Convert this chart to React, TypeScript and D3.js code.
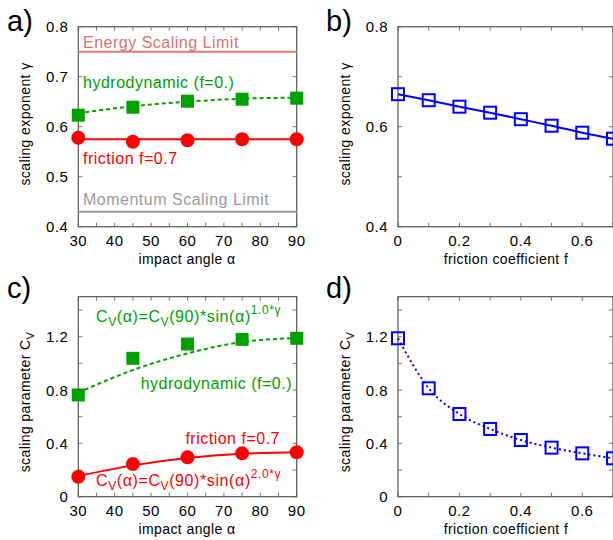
import React, { useEffect, useRef } from 'react';
import * as d3 from 'd3';

// impact angle panels (a, c)
const angles = [30, 45, 60, 75, 90];
const hydroGamma = [0.623, 0.639, 0.651, 0.655, 0.657];
const hydroGammaFit = [0.627, 0.641, 0.65, 0.656, 0.658];
const frictionGamma = [0.578, 0.57, 0.573, 0.575, 0.575];
const frictionGammaFit = [0.575, 0.575, 0.575, 0.575, 0.575];
const energyLimit = 0.75;
const momentumLimit = 0.43;

const hydroCv = [0.763, 1.038, 1.145, 1.18, 1.188];
const hydroCvFit = [0.78, 0.95, 1.075, 1.16, 1.19];
const frictionCv = [0.15, 0.245, 0.295, 0.325, 0.333];
const frictionCvFit = [0.155, 0.235, 0.29, 0.322, 0.333];

// friction coefficient panels (b, d)
const frictionCoef = [0, 0.1, 0.2, 0.3, 0.4, 0.5, 0.6, 0.7];
const gammaVsF = [0.665, 0.653, 0.64, 0.628, 0.615, 0.602, 0.588, 0.576];
const cvVsF = [1.188, 0.813, 0.62, 0.508, 0.425, 0.368, 0.325, 0.288];

// ticks
const angleTicks = [30, 35, 40, 45, 50, 55, 60, 65, 70, 75, 80, 85, 90];
const angleLabels = [30, 40, 50, 60, 70, 80, 90];
const fTicks = [0, 0.1, 0.2, 0.3, 0.4, 0.5, 0.6, 0.7];
const fLabels = [0, 0.2, 0.4, 0.6];
const gammaTicksA = [0.4, 0.5, 0.6, 0.7, 0.8];
const gammaLabelsA = [0.4, 0.5, 0.6, 0.7, 0.8];
const gammaTicksB = [0.4, 0.5, 0.6, 0.7, 0.8];
const gammaLabelsB = [0.4, 0.6, 0.8];
const cvTicks = [0, 0.2, 0.4, 0.6, 0.8, 1.0, 1.2, 1.4];
const cvLabels = [0, 0.4, 0.8, 1.2];

const FONT = '"Liberation Sans", Arial, sans-serif';
const GREEN = '#00a000';
const RED = '#ff0000';
const BLUE = '#0000ff';

type Sel = d3.Selection<SVGGElement, unknown, null, undefined>;

function frame(g: Sel, x: d3.ScaleLinear<number, number>, y: d3.ScaleLinear<number, number>,
  xTicks: number[], xLabels: number[], yTicks: number[], yLabels: number[]) {
  const [x0, x1] = x.range();
  const [y0, y1] = y.range();
  const tl = 4;
  xTicks.forEach(t => {
    g.append('line').attr('x1', x(t)).attr('x2', x(t)).attr('y1', y0).attr('y2', y0 - tl)
      .attr('stroke', '#777').attr('stroke-width', 1);
    g.append('line').attr('x1', x(t)).attr('x2', x(t)).attr('y1', y1).attr('y2', y1 + tl)
      .attr('stroke', '#777').attr('stroke-width', 1);
  });
  yTicks.forEach(t => {
    g.append('line').attr('x1', x0).attr('x2', x0 + tl).attr('y1', y(t)).attr('y2', y(t))
      .attr('stroke', '#777').attr('stroke-width', 1);
    g.append('line').attr('x1', x1).attr('x2', x1 - tl).attr('y1', y(t)).attr('y2', y(t))
      .attr('stroke', '#777').attr('stroke-width', 1);
  });
  g.append('rect').attr('x', x0).attr('y', y1).attr('width', x1 - x0).attr('height', y0 - y1)
    .attr('fill', 'none').attr('stroke', '#555').attr('stroke-width', 1.2);

  const fmt = (v: number) => (v === 0 ? '0' : d3.format('')(v));
  xLabels.forEach(t => {
    g.append('text').attr('x', x(t)).attr('y', y0 + 19).attr('text-anchor', 'middle')
      .attr('font-size', 15).attr('letter-spacing', 0.5).text(fmt(t));
  });
  yLabels.forEach(t => {
    g.append('text').attr('x', x0 - 10).attr('y', y(t) + 5.5).attr('text-anchor', 'end')
      .attr('font-size', 15).attr('letter-spacing', 0.5).text(fmt(t));
  });
}

function formula(g: Sel, xPos: number, yPos: number, color: string, power: string) {
  const t = g.append('text').attr('x', xPos).attr('y', yPos).attr('fill', color)
    .attr('font-size', 16).attr('letter-spacing', 0.6);
  t.append('tspan').text('C');
  t.append('tspan').attr('dy', 4).attr('font-size', 12).text('V');
  t.append('tspan').attr('dy', -4).text('(α)=C');
  t.append('tspan').attr('dy', 4).attr('font-size', 12).text('V');
  t.append('tspan').attr('dy', -4).text('(90)*sin(α)');
  t.append('tspan').attr('dy', -8).attr('font-size', 12).text(power);
}

const App: React.FC = () => {
  const svgRef = useRef<SVGSVGElement | null>(null);

  useEffect(() => {
    if (!svgRef.current) return;
    const svg = d3.select(svgRef.current);
    svg.selectAll('*').remove();
    const root = svg.append('g').attr('font-family', FONT);

    const xA = d3.scaleLinear().domain([30, 90]).range([78.3, 296.7]);
    const xB = d3.scaleLinear().domain([0, 0.7]).range([398, 613]);
    const yTop = d3.scaleLinear().domain([0.4, 0.8]).range([226.7, 26.7]);
    const yBot = d3.scaleLinear().domain([0, 1.5]).range([496.7, 296.7]);

    const line = (x: d3.ScaleLinear<number, number>, y: d3.ScaleLinear<number, number>) =>
      d3.line<[number, number]>().x(d => x(d[0])).y(d => y(d[1])).curve(d3.curveMonotoneX);
    const zip = (a: number[], b: number[]) => a.map((v, i) => [v, b[i]] as [number, number]);

    const filledSquares = (g: Sel, x: any, y: any, xs: number[], ys: number[], color: string) => {
      g.selectAll(null).data(zip(xs, ys)).enter().append('rect')
        .attr('x', d => x(d[0]) - 6.5).attr('y', d => y(d[1]) - 6.5)
        .attr('width', 13).attr('height', 13).attr('fill', color);
    };
    const circles = (g: Sel, x: any, y: any, xs: number[], ys: number[], color: string) => {
      g.selectAll(null).data(zip(xs, ys)).enter().append('circle')
        .attr('cx', d => x(d[0])).attr('cy', d => y(d[1])).attr('r', 7).attr('fill', color);
    };
    const openSquares = (g: Sel, x: any, y: any, xs: number[], ys: number[], color: string) => {
      g.selectAll(null).data(zip(xs, ys)).enter().append('rect')
        .attr('x', d => x(d[0]) - 6).attr('y', d => y(d[1]) - 6)
        .attr('width', 12).attr('height', 12).attr('fill', 'none')
        .attr('stroke', color).attr('stroke-width', 2);
    };

    // ---------- panel a ----------
    const a = root.append('g');
    frame(a, xA, yTop, angleTicks, angleLabels, gammaTicksA, gammaLabelsA);
    a.append('line').attr('x1', xA(30)).attr('x2', xA(90))
      .attr('y1', yTop(energyLimit)).attr('y2', yTop(energyLimit))
      .attr('stroke', '#dd7a7a').attr('stroke-width', 2);
    a.append('line').attr('x1', xA(30)).attr('x2', xA(90))
      .attr('y1', yTop(momentumLimit)).attr('y2', yTop(momentumLimit))
      .attr('stroke', '#999').attr('stroke-width', 2);
    a.append('path').attr('d', line(xA, yTop)(zip(angles, hydroGammaFit)))
      .attr('fill', 'none').attr('stroke', GREEN).attr('stroke-width', 2).attr('stroke-dasharray', '4,3');
    a.append('path').attr('d', line(xA, yTop)(zip(angles, frictionGammaFit)))
      .attr('fill', 'none').attr('stroke', RED).attr('stroke-width', 2);
    filledSquares(a, xA, yTop, angles, hydroGamma, GREEN);
    circles(a, xA, yTop, angles, frictionGamma, RED);
    const ann = (g: Sel, xPos: number, yPos: number, color: string, s: string, anchor = 'start') =>
      g.append('text').attr('x', xPos).attr('y', yPos).attr('fill', color).attr('text-anchor', anchor)
        .attr('font-size', 16).attr('letter-spacing', 0.5).text(s);
    ann(a, 83, 48, '#d87272', 'Energy Scaling Limit');
    ann(a, 83, 88, GREEN, 'hydrodynamic (f=0.)');
    ann(a, 83, 164, RED, 'friction f=0.7');
    ann(a, 83, 205, '#999', 'Momentum Scaling Limit');

    // ---------- panel b ----------
    const b = root.append('g');
    frame(b, xB, yTop, fTicks, fLabels, gammaTicksB, gammaLabelsB);
    b.append('path').attr('d', line(xB, yTop)(zip(frictionCoef, gammaVsF)))
      .attr('fill', 'none').attr('stroke', BLUE).attr('stroke-width', 2);
    openSquares(b, xB, yTop, frictionCoef, gammaVsF, BLUE);

    // ---------- panel c ----------
    const c = root.append('g');
    frame(c, xA, yBot, angleTicks, angleLabels, cvTicks, cvLabels);
    c.append('path').attr('d', line(xA, yBot)(zip(angles, hydroCvFit)))
      .attr('fill', 'none').attr('stroke', GREEN).attr('stroke-width', 2).attr('stroke-dasharray', '4,3');
    c.append('path').attr('d', line(xA, yBot)(zip(angles, frictionCvFit)))
      .attr('fill', 'none').attr('stroke', RED).attr('stroke-width', 2);
    filledSquares(c, xA, yBot, angles, hydroCv, GREEN);
    circles(c, xA, yBot, angles, frictionCv, RED);
    formula(c, 96, 322, GREEN, '1.0*γ');
    ann(c, 292, 389, GREEN, 'hydrodynamic (f=0.)', 'end');
    ann(c, 280, 444, RED, 'friction f=0.7', 'end');
    formula(c, 96, 486, RED, '2.0*γ');

    // ---------- panel d ----------
    const d = root.append('g');
    frame(d, xB, yBot, fTicks, fLabels, cvTicks, cvLabels);
    d.append('path').attr('d', line(xB, yBot)(zip(frictionCoef, cvVsF)))
      .attr('fill', 'none').attr('stroke', BLUE).attr('stroke-width', 2).attr('stroke-dasharray', '2,3');
    openSquares(d, xB, yBot, frictionCoef, cvVsF, BLUE);

    // ---------- titles ----------
    const xTitle = (xPos: number, yPos: number, s: string) =>
      root.append('text').attr('x', xPos).attr('y', yPos).attr('text-anchor', 'middle')
        .attr('font-size', 14).attr('letter-spacing', 0.4).text(s);
    xTitle(187, 264, 'impact angle α');
    xTitle(506, 264, 'friction coefficient f');
    xTitle(187, 534, 'impact angle α');
    xTitle(506, 534, 'friction coefficient f');

    const yTitle = (xPos: number, yPos: number, s: string, sub?: string) => {
      const t = root.append('text').attr('transform', `translate(${xPos},${yPos}) rotate(-90)`)
        .attr('text-anchor', 'middle').attr('font-size', 14).attr('letter-spacing', 0.4);
      t.append('tspan').text(s);
      if (sub) t.append('tspan').attr('dy', 4).attr('font-size', 11).text(sub);
    };
    yTitle(30, 124, 'scaling exponent γ');
    yTitle(350, 124, 'scaling exponent γ');
    yTitle(30, 402, 'scaling parameter C', 'V');
    yTitle(350, 402, 'scaling parameter C', 'V');

    const letter = (xPos: number, yPos: number, s: string) =>
      root.append('text').attr('x', xPos).attr('y', yPos).attr('font-size', 29).text(s);
    letter(7, 31, 'a)');
    letter(326, 31, 'b)');
    letter(7, 298, 'c)');
    letter(326, 298, 'd)');
  }, []);

  return (
    <svg ref={svgRef} width={613} height={540}
      style={{ position: 'absolute', left: 0, top: 0, background: '#fff' }}></svg>
  );
};

export default App;
